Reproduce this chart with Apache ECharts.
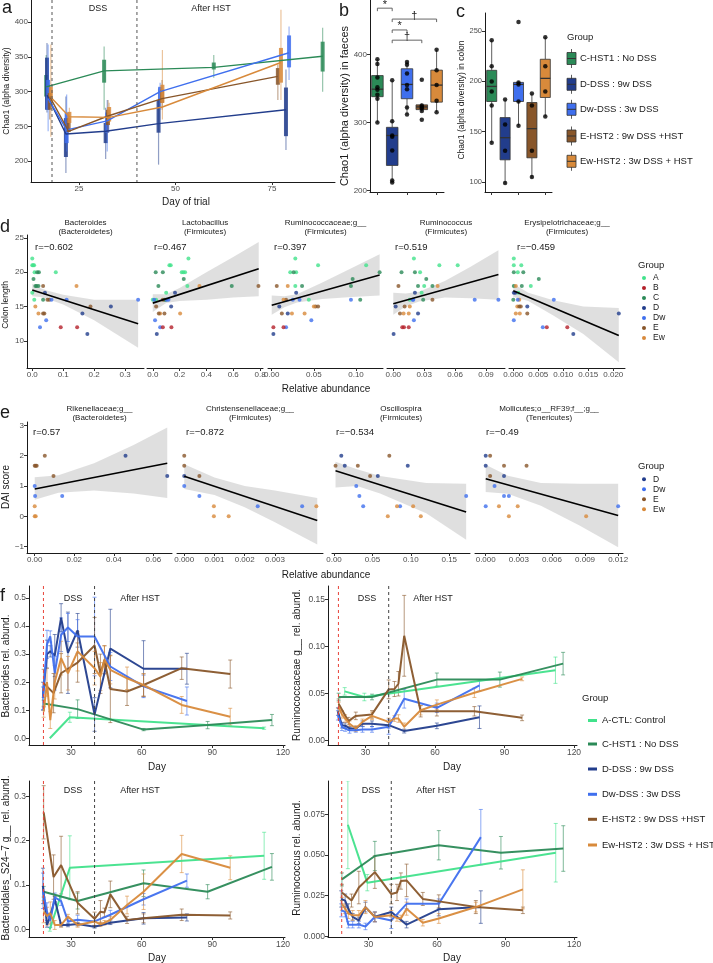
<!DOCTYPE html>
<html>
<head>
<meta charset="utf-8">
<script src="https://cdn.jsdelivr.net/npm/echarts@6.0.0/dist/echarts.min.js"></script>
<style>html,body{margin:0;padding:0;background:#fff;}#chart{width:713px;height:963px;}</style>
</head>
<body>
<div id="chart"></div>
<script>
// ================= DATA =================
const groupNames = ['C','D','Dw','E','Ew'];
const groupLabels = ['C-HST1 : No DSS','D-DSS : 9w DSS','Dw-DSS : 3w DSS','E-HST2 : 9w DSS +HST','Ew-HST2 : 3w DSS + HST'];
const fGroupNames = ['A','C','D','Dw','E','Ew'];
const fGroupLabels = ['A-CTL: Control','C-HST1 : No DSS','D-DSS : 9w DSS','Dw-DSS : 3w DSS','E-HST2 : 9w DSS +HST','Ew-HST2 : 3w DSS + HST'];
const dLegend = ['A','B','C','D','Dw','E','Ew'];
const eLegend = ['D','Dw','E','Ew'];

// ---- panel a : Chao1 over time (mean line + whisker + box) ----
const aTicksX = ['25','50','75'];
const aTicksY = ['200','250','300','350','400'];
const aPhaseDays = [18, 40];
const aDaysC  = [16.5,31.5,59.9,88.1], aMeanC=[307,330,335,351], aLoC=[288,274,320,300], aHiC=[353,365,353,392], aQ1C=[293,313,332,329], aQ3C=[324,346,342,372];
const aDaysD  = [16.7,21.6,31.9,45.6,78.6], aMeanD=[295,239,243,254,274], aLoD=[270,183,203,195,216], aHiD=[370,293,277,305,332], aQ1D=[274,206,226,241,236], aQ3D=[349,262,255,288,306];
const aDaysDw = [17.0,21.8,32.3,46.0,79.4], aMeanDw=[290,245,258,300,356], aLoDw=[243,214,214,274,317], aHiDw=[368,296,288,313,394], aQ1Dw=[274,226,241,288,335], aQ3Dw=[317,270,270,307,381];
const aDaysE  = [17.4,22.3,32.5,46.5,76.5], aMeanE=[293,243,265,290,322], aLoE=[260,241,241,274,288], aHiE=[310,267,288,317,339], aQ1E=[274,242,252,284,310], aQ3E=[298,262,274,303,334];
const aDaysEw = [17.7,22.5,32.8,46.6,77.3], aMeanEw=[292,264,263,278,342], aLoEw=[235,248,252,260,288], aHiEw=[368,277,284,360,418], aQ1Ew=[284,255,257,284,313], aQ3Ew=[307,271,278,310,363];

// ---- panel b : faeces boxplots ----
const bTicksY = ['200','300','400'];
const bMin=[300,215,312,316,315], bQ1=[338,237,335,319,330], bMed=[349,281,356,323,355], bQ3=[369,293,379,326,377], bMax=[393,362,390,328,407];
const bPtsC=[393,386,366,352,348,341,335,300], bPtsD=[362,302,281,279,259,215,212], bPtsDw=[389,385,372,355,349,322,312], bPtsE=[363,325,323,321,317,304], bPtsEw=[407,377,355,332,315];
const bBrFrom=[0,1,1,1], bBrTo=[1,4,2,3], bBrY=[468,452,436,421], bBrLab=['*','\u2020','*','\u2020'];

// ---- panel c : colon boxplots ----
const cTicksY = ['100','150','200','250'];
const cMin=[139,98,156,104,165], cQ1=[180,122,180,124,184], cMed=[195,144,197,153,203], cQ3=[211,164,199,179,222], cMax=[241,182,200,188,244];
const cPtsC=[241,215,200,190,176,139], cPtsD=[182,157,131,99], cPtsDw=[259,199,197,180,156], cPtsE=[188,176,131,105], cPtsEw=[244,215,190,165];

// ---- panel d : colon length vs relative abundance ----
const dTicksY = ['10','15','20','25'];
const dTitles1 = ['Bacteroides','Lactobacillus','Ruminococcaceae;g__','Ruminococcus','Erysipelotrichaceae;g__'];
const dTitles2 = ['(Bacteroidetes)','(Firmicutes)','(Firmicutes)','(Firmicutes)','(Firmicutes)'];
const dR = ['r=\u22120.602','r=0.467','r=0.397','r=0.519','r=\u22120.459'];
const d1Ticks=['0.0','0.1','0.2','0.3'], d2Ticks=['0.0','0.2','0.4','0.6','0.8'], d3Ticks=['0.00','0.05','0.10'], d4Ticks=['0.00','0.03','0.06','0.09'], d5Ticks=['0.000','0.005','0.010','0.015','0.020'];
const d1X=[0.0,0.0,0.003,0.006,0.0075,0.076,0.0,0.0065, 0.016,0.0215,0.004,0.01,0.014,0.02,0.035, 0.035,0.049,0.055,0.188,0.035,0.039, 0.143,0.01,0.02, 0.041,0.254,0.162,0.178, 0.062,0.111,0.342,0.045,0.025, 0.092,0.145];
const d1Y=[22,21,21,21,20,20,17,16, 20,20,19,18,18,18,16, 18,16,16,15,14,14, 18,15,14, 17,15,14,11, 16,16,16,13,12, 12,12];
const d1G=['A','A','A','A','A','A','A','A','C','C','C','C','C','C','C','E','E','E','E','E','E','Ew','Ew','Ew','D','D','D','D','Dw','Dw','Dw','Dw','Dw','B','B'];
const d2X=[0.266,0.124,0.134,0.216,0.228,0.241,0.258,0.1,0.0,0.025, 0.022,0.075,0.231,0.042,0.589,0.087,0.097, 0.348,0.204,0.055, 0.788,0.075,0.025,0.045,0.087, 0.166,0.137,0.03, 0.01,0.104,0.117,0.017,0.055, 0.075,0.139];
const d2Y=[22,21,21,20,20,20,18,17,16,16, 20,20,19,18,18,16,16, 18,14,14, 18,16,15,14,14, 17,15,11, 16,16,16,13,12, 12,12];
const d2G=['A','A','A','A','A','A','A','A','A','A','C','C','C','C','C','C','C','Ew','Ew','Ew','E','E','E','E','E','D','D','D','Dw','Dw','Dw','Dw','Dw','B','B'];
const d3X=[0.028,0.055,0.112,0.022,0.029,0.028,0.044, 0.026,0.128,0.096,0.036,0.094,0.105, 0.006,0.017,0.052,0.055,0.012, 0.019,0.014,0.05,0.024,0.039, 0.029,0.009,0.019,0.002, 0.025,0.033,0.094,0.047,0.017, 0.002,0.014];
const d3Y=[22,21,21,20,20,18,16, 20,20,19,18,18,16, 18,16,15,15,14, 18,16,15,14,14, 17,15,14,11, 16,16,16,13,12, 12,12];
const d3G=['A','A','A','A','A','A','A','C','C','C','C','C','C','E','E','E','E','E','Ew','Ew','Ew','Ew','Ew','D','D','D','D','Dw','Dw','Dw','Dw','Dw','B','B'];
const d4X=[0.020,0.0447,0.0625,0.026,0.030,0.0275,0.016, 0.008,0.021,0.032,0.024,0.038,0.029, 0.005,0.038,0.011,0.0065, 0.043,0.016,0.010,0.015, 0.021,0.0023,0.024,0.0003, 0.0188,0.0194,0.079,0.102,0.02, 0.0087,0.0104,0.015];
const d4Y=[22,21,21,20,18,17,16, 20,20,19,18,18,16, 18,16,15,14, 18,15,14,14, 17,15,14,11, 16,16,16,16,13, 12,12,12];
const d4G=['A','A','A','A','A','A','A','C','C','C','C','C','C','E','E','E','E','Ew','Ew','Ew','Ew','D','D','D','D','Dw','Dw','Dw','Dw','Dw','B','B','B'];
const d5X=[0.0001,0.0001,0.0016,0.0009,0.0035,0.001, 0.0001,0.002,0.0051,0.0001,0.0017,0.0, 0.0005,0.0012,0.0008,0.0005,0.0013, 0.0012,0.0015,0.0028, 0.0001,0.0004,0.0028,0.0211,0.012, 0.0009,0.0081,0.0001,0.0059, 0.0067,0.0108];
const d5Y=[22,21,21,20,18,17, 20,20,19,18,18,16, 18,16,15,14,14, 15,15,14, 17,17,15,14,11, 16,16,13,12, 12,12];
const d5G=['A','A','A','A','A','A','C','C','C','C','C','C','Ew','Ew','Ew','Ew','Ew','E','E','E','D','D','D','D','D','Dw','Dw','Dw','Dw','B','B'];
const d1Fit=[0,17.4,0.342,12.5], d1BandX=[0,0.025,0.05,0.1,0.2,0.342], d1BandLo=[16.5,16.4,16.1,15.3,13.0,9.0], d1BandHi=[18.3,17.7,17.3,16.7,16.0,16.0];
const d2Fit=[0,15.5,0.79,20.5], d2BandX=[0,0.1,0.2,0.4,0.6,0.79], d2BandLo=[14.2,15.5,15.8,16.0,16.3,16.5], d2BandHi=[16.8,16.8,17.7,20.0,22.2,24.4];
const d3Fit=[0,15.2,0.128,19.6], d3BandX=[0,0.015,0.03,0.06,0.095,0.128], d3BandLo=[13.8,14.9,15.6,16.1,16.4,16.6], d3BandHi=[16.6,16.5,16.8,18.5,20.6,22.6];
const d4Fit=[0,15.4,0.102,19.66], d4BandX=[0,0.012,0.025,0.05,0.075,0.102], d4BandLo=[13.8,15.0,15.75,16.3,16.2,16.0], d4BandHi=[17.0,16.9,17.15,18.7,20.8,23.2];
const d5Fit=[0,17.3,0.0211,10.8], d5BandX=[0,0.003,0.008,0.014,0.0211], d5BandLo=[16.4,15.8,13.7,11.0,6.9], d5BandHi=[18.3,17.0,15.9,15.0,14.8];

// ---- panel e : DAI score vs relative abundance ----
const eTicksY = ['-1','0','1','2','3'];
const eTitles1 = ['Rikenellaceae;g__','Christensenellaceae;g__','Oscillospira','Mollicutes;o__RF39;f__;g__'];
const eTitles2 = ['(Bacteroidetes)','(Firmicutes)','(Firmicutes)','(Tenericutes)'];
const eR = ['r=0.57','r=\u22120.872','r=\u22120.534','r=\u22120.49'];
const e1Ticks=['0.00','0.02','0.04','0.06'], e2Ticks=['0.000','0.001','0.002','0.003'], e3Ticks=['0.00','0.05','0.10','0.15'], e4Ticks=['0.000','0.003','0.006','0.009','0.012'];
const e1X=[0.0051,0.0,0.0005,0.001,0.0095, 0.0459,0.067, 0.0,0.0002,0.0139, 0.0,0.0,0.0005];
const e1Y=[2,1.667,1.667,1.667,1.333, 2,1.333, 1,0.667,0.667, 0.333,0,0];
const e1G=['E','E','E','E','E','D','D','Dw','Dw','Dw','Ew','Ew','Ew'];
const e2X=[0,0,0.0005, 0, 0,0.0005,0.00243,0.0039, 0.00098,0.00098,0.00147,0.00437];
const e2Y=[2,1.667,1.333, 1.333, 1,0.667,0.333,0.333, 0.333,0,0,0.333];
const e2G=['E','E','E','D','Dw','Dw','Dw','Dw','Ew','Ew','Ew','Ew'];
const e3X=[0.002,0.031,0.072,0.047, 0.0095,0.014,0.096,0.057, 0.029,0.033,0.038,0.086,0.172, 0.082,0.103,0.070,0.113];
const e3Y=[1.667,1.667,2,1.333, 2,1.667,1.667,1.333, 1,0.667,0.333,0.333,0.667, 0.333,0.333,0,0];
const e3G=['E','E','E','E','D','D','D','D','Dw','Dw','Dw','Dw','Dw','Ew','Ew','Ew','Ew'];
const e4X=[0.0004,0.00166,0.0037,0.0004, 0,0,0.00166, 0.0008,0.00166,0.0021,0.012,0, 0.0012,0.0029,0.0021,0.0091];
const e4Y=[2,1.667,1.667,1.333, 2,1.667,1.333, 1,0.667,0.667,0.333,0.333, 0.333,0.333,0,0];
const e4G=['E','E','E','E','D','D','D','Dw','Dw','Dw','Dw','Dw','Ew','Ew','Ew','Ew'];
const e1Fit=[0,0.9,0.067,1.75], e1BandX=[0,0.012,0.03,0.05,0.067], e1BandLo=[0.55,0.78,0.85,0.75,0.6], e1BandHi=[1.29,1.35,1.75,2.35,2.93];
const e2Fit=[0,1.32,0.0044,-0.14], e2BandX=[0,0.001,0.002,0.003,0.0044], e2BandLo=[0.9,0.7,0.3,-0.2,-0.93], e2BandHi=[1.72,1.28,1.0,0.85,0.6];
const e3Fit=[0.002,1.5,0.172,0.14], e3BandX=[0.002,0.03,0.06,0.12,0.172], e3BandLo=[0.95,1.0,0.75,0.1,-0.77], e3BandHi=[1.8,1.55,1.33,1.1,1.07];
const e4Fit=[0,1.24,0.012,0.03], e4BandX=[0,0.002,0.005,0.0085,0.012], e4BandLo=[0.8,0.74,0.35,-0.3,-1.02], e4BandHi=[1.7,1.34,1.1,1.07,1.07];

// ---- panel f : relative abundance time courses ----
const fTicksX = ['30','60','90','120'];
const f1TicksY=['0.0','0.1','0.2','0.3','0.4','0.5'], f2TicksY=['0.00','0.05','0.10','0.15'], f3TicksY=['0.0','0.1','0.2','0.3'], f4TicksY=['0.000','0.025','0.050','0.075'];
const fRedDay=[18.3], fBlackDay=[40];
const fDaysA=[21.0,29.5,112.0];
const fDaysC=[18.4,32.8,60.8,88.0,115.3];
const fDaysD=[18.1,19.8,21.2,23.1,25.8,28.7,32.8,40.0,46.7,60.8,79.2];
const fDaysDw=[18.1,19.8,21.2,23.1,25.8,28.7,32.8,40.0,46.7,60.8,79.2];
const fDaysE=[18.4,22.6,25.8,32.8,40.0,42.5,44.2,46.7,53.8,60.8,77.0,97.6];
const fDaysEw=[18.4,19.8,21.2,23.1,25.8,28.7,32.8,40.0,42.5,44.2,46.7,53.8,60.8,77.0,97.6];
// Bacteroides
const f1A=[0.0,0.075,0.036], f1Ae=[0,0.018,0.004];
const f1C=[0.124,0.104,0.031,0.047,0.065], f1Ce=[0.012,0.033,0.004,0.013,0.02];
const f1D=[0.15,0.30,0.31,0.295,0.43,0.305,0.385,0.085,0.32,0.248,0.248], f1De=[0.05,0.05,0.02,0.075,0.05,0.145,0.06,0.06,0.14,0.1,0.055];
const f1Dw=[0.143,0.335,0.363,0.232,0.369,0.395,0.363,0.363,0.256,0.185,0.133], f1Dwe=[0.04,0.05,0.02,0.06,0.06,0.05,0.06,0.14,0.05,0.04,0.05];
const f1E=[0.196,0.161,0.232,0.27,0.331,0.23,0.28,0.176,0.167,0.19,0.25,0.229], f1Ee=[0.05,0.07,0.07,0.07,0.1,0.07,0.05,0.12,0.05,0.04,0.04,0.05];
const f1Ew=[0.095,0.2,0.065,0.2,0.286,0.232,0.31,0.25,0.22,0.28,0.244,0.214,0.19,0.119,0.077], f1Ewe=[0.02,0.05,0.03,0.06,0.06,0.06,0.07,0.06,0.05,0.05,0.05,0.04,0.04,0.03,0.03];
// Ruminococcaceae g__
const f2A=[0.0525,0.0465,0.075], f2Ae=[0.004,0.004,0.014];
const f2C=[0.0465,0.0465,0.065,0.065,0.082], f2Ce=[0.004,0.003,0.007,0.008,0.012];
const f2D=[0.031,0.0165,0.016,0.013,0.013,0.018,0.018,0.0165,0.0102,0.0158,0.025], f2De=[0.004,0.003,0.003,0.002,0.002,0.003,0.003,0.003,0.002,0.003,0.012];
const f2Dw=[0.027,0.0148,0.013,0.011,0.011,0.012,0.012,0.0148,0.0447,0.035,0.0588], f2Dwe=[0.005,0.004,0.003,0.003,0.002,0.003,0.003,0.008,0.01,0.005,0.006];
const f2E=[0.0394,0.0208,0.0264,0.028,0.0546,0.055,0.0606,0.1116,0.0313,0.0313,0.0313,0.0243], f2Ee=[0.005,0.004,0.004,0.004,0.01,0.008,0.013,0.043,0.006,0.005,0.005,0.003];
const f2Ew=[0.036,0.028,0.0236,0.018,0.013,0.02,0.0264,0.02,0.0236,0.0236,0.0148,0.0324,0.0384,0.051,0.0658], f2Ewe=[0.005,0.004,0.004,0.003,0.003,0.003,0.004,0.004,0.003,0.004,0.004,0.005,0.005,0.005,0.002];
// Bacteroidales S24-7
const f3A=[0.0,0.139,0.166], f3Ae=[0.004,0.072,0.053];
const f3C=[0.085,0.064,0.104,0.085,0.141], f3Ce=[0.012,0.018,0.03,0.016,0.03];
const f3D=[0.098,0.01,0.03,0.068,0.01,0.01,0.012,0.006,0.015,0.025,0.027], f3De=[0.04,0.005,0.005,0.006,0.004,0.004,0.004,0.003,0.004,0.013,0.008];
const f3Dw=[0.087,0.04,0.02,0.072,0.064,0.018,0.022,0.018,0.033,0.068,0.11], f3Dwe=[0.04,0.02,0.015,0.01,0.01,0.008,0.01,0.01,0.01,0.013,0.015];
const f3E=[0.264,0.118,0.145,0.06,0.024,0.04,0.038,0.079,0.0215,0.025,0.033,0.0315], f3Ee=[0.06,0.05,0.065,0.025,0.015,0.025,0.01,0.03,0.008,0.01,0.013,0.008];
const f3Ew=[0.04,0.03,0.037,0.01,0.01,0.029,0.01,0.018,0.0115,0.015,0.0215,0.055,0.085,0.17,0.139], f3Ewe=[0.025,0.02,0.025,0.01,0.005,0.005,0.005,0.01,0.005,0.005,0.008,0.02,0.04,0.042,0.027];
// Ruminococcus
const f4A=[0.0686,0.033,0.0514], f4Ae=[0.027,0.005,0.018];
const f4C=[0.035,0.0494,0.056,0.0514,0.054], f4Ce=[0.004,0.009,0.009,0.01,0.014];
const f4D=[0.023,0.022,0.017,0.012,0.0098,0.018,0.012,0.015,0.0072,0.0166,0.018], f4De=[0.005,0.004,0.003,0.002,0.002,0.003,0.003,0.003,0.002,0.004,0.01];
const f4Dw=[0.016,0.015,0.0072,0.0072,0.0072,0.0061,0.0119,0.0098,0.020,0.020,0.061], f4Dwe=[0.004,0.003,0.002,0.002,0.002,0.002,0.003,0.005,0.003,0.003,0.017];
const f4E=[0.027,0.022,0.03,0.0395,0.026,0.027,0.034,0.0344,0.023,0.0215,0.018,0.016], f4Ee=[0.005,0.004,0.01,0.01,0.006,0.005,0.005,0.01,0.004,0.004,0.004,0.002];
const f4Ew=[0.020,0.017,0.014,0.0129,0.0129,0.018,0.0119,0.0129,0.0113,0.011,0.017,0.0084,0.011,0.018,0.0289], f4Ewe=[0.004,0.003,0.003,0.003,0.003,0.004,0.003,0.003,0.002,0.002,0.004,0.002,0.003,0.003,0.012];

// ================= STYLE / BUILD =================
const FONT = '"Liberation Sans", Arial, Helvetica, sans-serif';
const COL = {A:'#41E28B', B:'#B4212B', C:'#2B8A57', D:'#223D8C', Dw:'#3F6FEE', E:'#88562A', Ew:'#D88A3B'};
const grids=[], xAxes=[], yAxes=[], series=[], gfx=[];

function addGrid(l,t,w,h){ grids.push({left:l, top:t, width:w, height:h, containLabel:false, outerBoundsMode:'none'}); return grids.length-1; }
function vAxis(gi, min, max, ticks, opt){
  opt = opt || {};
  const vals = ticks.map(Number);
  const hidden = !!opt.hidden;
  return {type:'value', gridIndex:gi, min:min, max:max,
    axisLine:{show:!hidden, onZero:false, lineStyle:{color:'#1a1a1a', width:1}},
    axisTick:{show:!hidden, length:3, customValues:vals, lineStyle:{color:'#333', width:1}},
    axisLabel:{show:!hidden, customValues:vals, fontSize:opt.fs||8, color:'#4d4d4d', fontFamily:FONT, margin:opt.margin||3,
      formatter:function(v){ for(let i=0;i<vals.length;i++){ if(Math.abs(vals[i]-v)<1e-9) return ticks[i].replace('-','\u2212'); } return ''; }},
    splitLine:{show:false}, splitArea:{show:false}};
}
function cAxis(gi){
  return {type:'category', gridIndex:gi, data:groupNames, boundaryGap:true,
    axisLine:{show:true, onZero:false, lineStyle:{color:'#1a1a1a', width:1}},
    axisTick:{show:true, alignWithLabel:true, length:3, lineStyle:{color:'#333'}},
    axisLabel:{show:false}, splitLine:{show:false}};
}
function txt(x,y,s,size,opt){
  opt = opt || {};
  return {type:'text', x:x, y:y, rotation:opt.rot||0, silent:true, z:100,
    style:{text:s, font:size+'px '+FONT, fill:opt.color||'#1a1a1a', textAlign:opt.align||'left', textVerticalAlign:opt.va||'middle'}};
}
function vlines(gi, days, color){
  series.push({type:'custom', xAxisIndex:gi, yAxisIndex:gi, z:5, silent:true, data:days.map(d=>[d,0]),
    renderItem:function(p,api){ const cs=p.coordSys; const x=api.coord([api.value(0), api.value(1)])[0];
      return {type:'line', shape:{x1:x,y1:cs.y,x2:x,y2:cs.y+cs.height}, style:{stroke:color, lineWidth:1, lineDash:[3,3]}}; }});
}

// ---------- panel a ----------
const gA = addGrid(31,0,304,182);
xAxes.push(vAxis(gA,12.56,91.3,aTicksX));
yAxes.push(vAxis(gA,170,432,aTicksY));
vlines(gA, aPhaseDays, '#555');
function aGroup(days, mean, lo, hi, q1, q3, color){
  series.push({type:'custom', xAxisIndex:gA, yAxisIndex:gA, z:2, silent:true, data:days.map((d,i)=>[d,lo[i],hi[i],q1[i],q3[i]]),
    renderItem:function(p,api){ const x=api.value(0);
      const a=api.coord([x,api.value(1)]), b=api.coord([x,api.value(2)]), c=api.coord([x,api.value(3)]), d=api.coord([x,api.value(4)]);
      return {type:'group', children:[
        {type:'line', shape:{x1:a[0],y1:a[1],x2:b[0],y2:b[1]}, style:{stroke:color, lineWidth:1.2, opacity:0.5}},
        {type:'rect', shape:{x:c[0]-2, y:d[1], width:4, height:c[1]-d[1]}, style:{fill:color, opacity:0.85}}]}; }});
  series.push({type:'line', xAxisIndex:gA, yAxisIndex:gA, z:3, symbol:'none', silent:true, data:days.map((d,i)=>[d,mean[i]]), lineStyle:{color:color, width:1.4}});
}
aGroup(aDaysC,aMeanC,aLoC,aHiC,aQ1C,aQ3C,COL.C);
aGroup(aDaysD,aMeanD,aLoD,aHiD,aQ1D,aQ3D,COL.D);
aGroup(aDaysDw,aMeanDw,aLoDw,aHiDw,aQ1Dw,aQ3Dw,COL.Dw);
aGroup(aDaysE,aMeanE,aLoE,aHiE,aQ1E,aQ3E,COL.E);
aGroup(aDaysEw,aMeanEw,aLoEw,aHiEw,aQ1Ew,aQ3Ew,COL.Ew);

// ---------- panels b, c ----------
function boxPanel(gi, mins, q1s, meds, q3s, maxs, pts, frac){
  series.push({type:'custom', xAxisIndex:gi, yAxisIndex:gi, z:2, silent:true,
    data:groupNames.map((g,i)=>[i,mins[i],q1s[i],meds[i],q3s[i],maxs[i]]),
    renderItem:function(p,api){ const i=api.value(0); const w=api.size([1,0])[0]*frac;
      const pmin=api.coord([i,api.value(1)]), pq1=api.coord([i,api.value(2)]), pmed=api.coord([i,api.value(3)]), pq3=api.coord([i,api.value(4)]), pmax=api.coord([i,api.value(5)]);
      const x=pmin[0], st={stroke:'#333', lineWidth:0.8};
      return {type:'group', children:[
        {type:'line', shape:{x1:x,y1:pmin[1],x2:x,y2:pq1[1]}, style:st},
        {type:'line', shape:{x1:x,y1:pq3[1],x2:x,y2:pmax[1]}, style:st},
        {type:'rect', shape:{x:x-w/2,y:pq3[1],width:w,height:pq1[1]-pq3[1]}, style:{fill:COL[groupNames[i]], stroke:'#333', lineWidth:0.8}},
        {type:'line', shape:{x1:x-w/2,y1:pmed[1],x2:x+w/2,y2:pmed[1]}, style:{stroke:'#333', lineWidth:1.3}}]}; }});
  const pd=[]; pts.forEach((arr,i)=>arr.forEach(v=>pd.push([i,v])));
  series.push({type:'scatter', xAxisIndex:gi, yAxisIndex:gi, z:3, symbolSize:4.5, silent:true, itemStyle:{color:'#000'}, data:pd});
}
const gB = addGrid(370,0,74,192);
xAxes.push(cAxis(gB)); yAxes.push(vAxis(gB,198,480,bTicksY,{fs:8}));
boxPanel(gB,bMin,bQ1,bMed,bQ3,bMax,[bPtsC,bPtsD,bPtsDw,bPtsE,bPtsEw],0.78);
series.push({type:'custom', xAxisIndex:gB, yAxisIndex:gB, z:4, silent:true, data:bBrFrom.map((f,i)=>[f,bBrTo[i],bBrY[i]]),
  renderItem:function(p,api){ const a=api.coord([api.value(0),api.value(2)]), b=api.coord([api.value(1),api.value(2)]);
    return {type:'group', children:[
      {type:'polyline', shape:{points:[[a[0],a[1]+3],[a[0],a[1]],[b[0],b[1]],[b[0],b[1]+3]]}, style:{stroke:'#555', lineWidth:0.9, fill:'none'}},
      {type:'text', x:(a[0]+b[0])/2, y:a[1]+2, style:{text:bBrLab[p.dataIndex], font:'11px '+FONT, fill:'#222', textAlign:'center', textVerticalAlign:'bottom'}}]}; }});

const gC = addGrid(485,13,67,179);
xAxes.push(cAxis(gC)); yAxes.push(vAxis(gC,90,268,cTicksY,{fs:7.5}));
boxPanel(gC,cMin,cQ1,cMed,cQ3,cMax,[cPtsC,cPtsD,cPtsDw,cPtsE,cPtsEw],0.75);

// ---------- panels d, e ----------
function facet(gi, X, Y, G, fit, bx, blo, bhi){
  const rows = bx.map((x,i)=>[x,blo[i],bhi[i]]);
  series.push({type:'custom', xAxisIndex:gi, yAxisIndex:gi, z:1, silent:true, clip:true, data:rows,
    renderItem:function(p,api){ if(p.dataIndex!==0) return null; const pts=[];
      rows.forEach(r=>pts.push(api.coord([r[0],r[2]])));
      for(let i=rows.length-1;i>=0;i--) pts.push(api.coord([rows[i][0],rows[i][1]]));
      return {type:'polygon', shape:{points:pts}, style:{fill:'rgba(150,150,150,0.3)'}}; }});
  series.push({type:'scatter', xAxisIndex:gi, yAxisIndex:gi, z:2, symbolSize:4, silent:true,
    data:X.map((x,i)=>({value:[x,Y[i]], itemStyle:{color:COL[G[i]]}}))});
  series.push({type:'line', xAxisIndex:gi, yAxisIndex:gi, z:3, symbol:'none', silent:true,
    data:[[fit[0],fit[1]],[fit[2],fit[3]]], lineStyle:{color:'#000', width:1.6}});
}
const dX = [[27,117,-0.017,0.361,d1Ticks],[147,116,-0.043,0.822,d2Ticks],[268,115,-0.0044,0.132,d3Ticks],[387,118,-0.0061,0.1084,d4Ticks],[509,116,-0.00086,0.02234,d5Ticks]];
const dData = [[d1X,d1Y,d1G,d1Fit,d1BandX,d1BandLo,d1BandHi],[d2X,d2Y,d2G,d2Fit,d2BandX,d2BandLo,d2BandHi],[d3X,d3Y,d3G,d3Fit,d3BandX,d3BandLo,d3BandHi],[d4X,d4Y,d4G,d4Fit,d4BandX,d4BandLo,d4BandHi],[d5X,d5Y,d5G,d5Fit,d5BandX,d5BandLo,d5BandHi]];
const dRx = [35,154,274,395,517];
dX.forEach((g,k)=>{
  const gi = addGrid(g[0],235,g[1],133);
  xAxes.push(vAxis(gi,g[2],g[3],g[4]));
  yAxes.push(vAxis(gi,6.07,25.4,dTicksY,{hidden:k>0}));
  const dd = dData[k]; facet(gi,dd[0],dd[1],dd[2],dd[3],dd[4],dd[5],dd[6]);
  const cx = g[0]+g[1]/2;
  gfx.push(txt(cx,223,dTitles1[k],8,{align:'center'}), txt(cx,232,dTitles2[k],8,{align:'center'}), txt(dRx[k],247,dR[k],9.5));
});
const eX = [[27,145,-0.0039,0.0694,e1Ticks],[177,146,-0.00024,0.00459,e2Ticks],[332,138,-0.0026,0.177,e3Ticks],[475,148,-0.00097,0.01244,e4Ticks]];
const eData = [[e1X,e1Y,e1G,e1Fit,e1BandX,e1BandLo,e1BandHi],[e2X,e2Y,e2G,e2Fit,e2BandX,e2BandLo,e2BandHi],[e3X,e3Y,e3G,e3Fit,e3BandX,e3BandLo,e3BandHi],[e4X,e4Y,e4G,e4Fit,e4BandX,e4BandLo,e4BandHi]];
const eRx = [33,186,336,486];
eX.forEach((g,k)=>{
  const gi = addGrid(g[0],422,g[1],131);
  xAxes.push(vAxis(gi,g[2],g[3],g[4]));
  yAxes.push(vAxis(gi,-1.21,3.11,eTicksY,{hidden:k>0}));
  const dd = eData[k]; facet(gi,dd[0],dd[1],dd[2],dd[3],dd[4],dd[5],dd[6]);
  const cx = g[0]+g[1]/2;
  gfx.push(txt(cx,408.5,eTitles1[k],8,{align:'center'}), txt(cx,417.5,eTitles2[k],8,{align:'center'}), txt(eRx[k],432,eR[k],9.5));
});

// ---------- panel f ----------
function fPanel(gi, dayArr, valArr, errArr){
  fGroupNames.forEach((g,k)=>{
    const days=dayArr[k], vals=valArr[k], errs=errArr[k], color=COL[g];
    series.push({type:'custom', xAxisIndex:gi, yAxisIndex:gi, z:2, silent:true, clip:true, data:days.map((d,i)=>[d,vals[i],errs[i]]),
      renderItem:function(p,api){ const x=api.value(0), m=api.value(1), e=api.value(2); if(!(e>0)) return null;
        const a=api.coord([x,m-e]), b=api.coord([x,m+e]), cw=2, st={stroke:color, lineWidth:1, opacity:0.6};
        return {type:'group', children:[
          {type:'line', shape:{x1:a[0],y1:a[1],x2:b[0],y2:b[1]}, style:st},
          {type:'line', shape:{x1:a[0]-cw,y1:a[1],x2:a[0]+cw,y2:a[1]}, style:st},
          {type:'line', shape:{x1:b[0]-cw,y1:b[1],x2:b[0]+cw,y2:b[1]}, style:st}]}; }});
    series.push({type:'line', xAxisIndex:gi, yAxisIndex:gi, z:3, symbol:'none', silent:true, data:days.map((d,i)=>[d,vals[i]]), lineStyle:{color:color, width:2, opacity:0.95}});
  });
  vlines(gi, fRedDay, '#E8443A');
  vlines(gi, fBlackDay, '#444');
}
const fDays = [fDaysA,fDaysC,fDaysD,fDaysDw,fDaysE,fDaysEw];
const gF1 = addGrid(29,586,256,159);
xAxes.push(vAxis(gF1,12.17,120.85,fTicksX,{fs:8.5})); yAxes.push(vAxis(gF1,-0.0239,0.543,f1TicksY,{fs:8.5}));
fPanel(gF1,fDays,[f1A,f1C,f1D,f1Dw,f1E,f1Ew],[f1Ae,f1Ce,f1De,f1Dwe,f1Ee,f1Ewe]);
const gF2 = addGrid(328,586,249,159);
xAxes.push(vAxis(gF2,13.8,121.3,fTicksX,{fs:8.5})); yAxes.push(vAxis(gF2,-0.00458,0.1646,f2TicksY,{fs:8.5}));
fPanel(gF2,fDays,[f2A,f2C,f2D,f2Dw,f2E,f2Ew],[f2Ae,f2Ce,f2De,f2Dwe,f2Ee,f2Ewe]);
const gF3 = addGrid(29,781,256,156);
xAxes.push(vAxis(gF3,12.17,120.85,fTicksX,{fs:8.5})); yAxes.push(vAxis(gF3,-0.0171,0.3346,f3TicksY,{fs:8.5}));
fPanel(gF3,fDays,[f3A,f3C,f3D,f3Dw,f3E,f3Ew],[f3Ae,f3Ce,f3De,f3Dwe,f3Ee,f3Ewe]);
const gF4 = addGrid(328,781,249,156);
xAxes.push(vAxis(gF4,12.3,121.3,fTicksX,{fs:8.5})); yAxes.push(vAxis(gF4,-0.0004,0.0955,f4TicksY,{fs:8.5}));
fPanel(gF4,fDays,[f4A,f4C,f4D,f4Dw,f4E,f4Ew],[f4Ae,f4Ce,f4De,f4Dwe,f4Ee,f4Ewe]);

// ---------- texts ----------
const R90 = Math.PI/2;
gfx.push(
  txt(2,8,'a',18), txt(339,11,'b',18), txt(456,12,'c',18), txt(0,227,'d',18), txt(0,413,'e',18), txt(0,596,'f',18),
  txt(98,9,'DSS',9,{align:'center'}), txt(211,9,'After HST',9,{align:'center'}),
  txt(186,202,'Day of trial',10,{align:'center'}),
  txt(7,91,'Chao1 (alpha diversity)',8.5,{align:'center',rot:R90}),
  txt(345,106,'Chao1 (alpha diversity) in faeces',11,{align:'center',rot:R90}),
  txt(462,100,'Chao1 (alpha diversity) in colon',8.5,{align:'center',rot:R90}),
  txt(6,305,'Colon length',8.5,{align:'center',rot:R90}),
  txt(326,389,'Relative abundance',10,{align:'center'}),
  txt(6,487,'DAI score',10,{align:'center',rot:R90}),
  txt(326,575,'Relative abundance',10,{align:'center'}),
  txt(73,599,'DSS',9,{align:'center'}), txt(140,599,'After HST',9,{align:'center'}),
  txt(367,599,'DSS',9,{align:'center'}), txt(433,599,'After HST',9,{align:'center'}),
  txt(73,791,'DSS',9,{align:'center'}), txt(140,791,'After HST',9,{align:'center'}),
  txt(371,791,'DSS',9,{align:'center'}), txt(436,791,'After HST',9,{align:'center'}),
  txt(157,767,'Day',10,{align:'center'}), txt(452,767,'Day',10,{align:'center'}),
  txt(157,958,'Day',10,{align:'center'}), txt(452,958,'Day',10,{align:'center'}),
  txt(6,666,'Bacteroides rel. abund.',10,{align:'center',rot:R90}),
  txt(297,665,'Ruminococcaceae g__ rel. abund.',10,{align:'center',rot:R90}),
  txt(6,858,'Bacteroidales_S24\u22127 g__ rel. abund.',10,{align:'center',rot:R90}),
  txt(297,858,'Ruminococcus rel. abund.',10,{align:'center',rot:R90})
);
// legend a/b/c
gfx.push(txt(567,37,'Group',9.5));
const abcLegY = [58.5,84.3,109.3,136,161.3];
groupNames.forEach((g,i)=>{
  const y = abcLegY[i];
  gfx.push({type:'line', silent:true, shape:{x1:571.5,y1:y-9.5,x2:571.5,y2:y+9.5}, style:{stroke:'#333', lineWidth:0.8}});
  gfx.push({type:'rect', silent:true, shape:{x:567,y:y-6,width:9,height:12}, style:{fill:COL[g], stroke:'#333', lineWidth:0.8}});
  gfx.push({type:'line', silent:true, shape:{x1:567,y1:y,x2:576,y2:y}, style:{stroke:'#333', lineWidth:1}});
  gfx.push(txt(580,y,groupLabels[i],9.5));
});
// legend d
gfx.push(txt(638,265,'Group',9.5));
dLegend.forEach((g,i)=>{ const y=278+10*i;
  gfx.push({type:'circle', silent:true, shape:{cx:644,cy:y,r:2}, style:{fill:COL[g]}});
  gfx.push(txt(653,y,g,8.5)); });
// legend e
gfx.push(txt(638,466,'Group',9.5));
eLegend.forEach((g,i)=>{ const y=479.3+10*i;
  gfx.push({type:'circle', silent:true, shape:{cx:644,cy:y,r:2}, style:{fill:COL[g]}});
  gfx.push(txt(653,y,g,8.5)); });
// legend f
gfx.push(txt(582,698,'Group',9.5));
const fLegY = [720.5,744,769,794.3,819.3,845];
fGroupNames.forEach((g,i)=>{ const y=fLegY[i];
  gfx.push({type:'line', silent:true, shape:{x1:588,y1:y,x2:597,y2:y}, style:{stroke:COL[g], lineWidth:3}});
  gfx.push(txt(602,y,fGroupLabels[i],9.5)); });

const chart = echarts.init(document.getElementById('chart'), null, {renderer:'canvas'});
chart.setOption({
  animation:false, backgroundColor:'#fff', textStyle:{fontFamily:FONT},
  grid:grids, xAxis:xAxes, yAxis:yAxes, series:series, graphic:{elements:gfx}
});
</script>
</body>
</html>
